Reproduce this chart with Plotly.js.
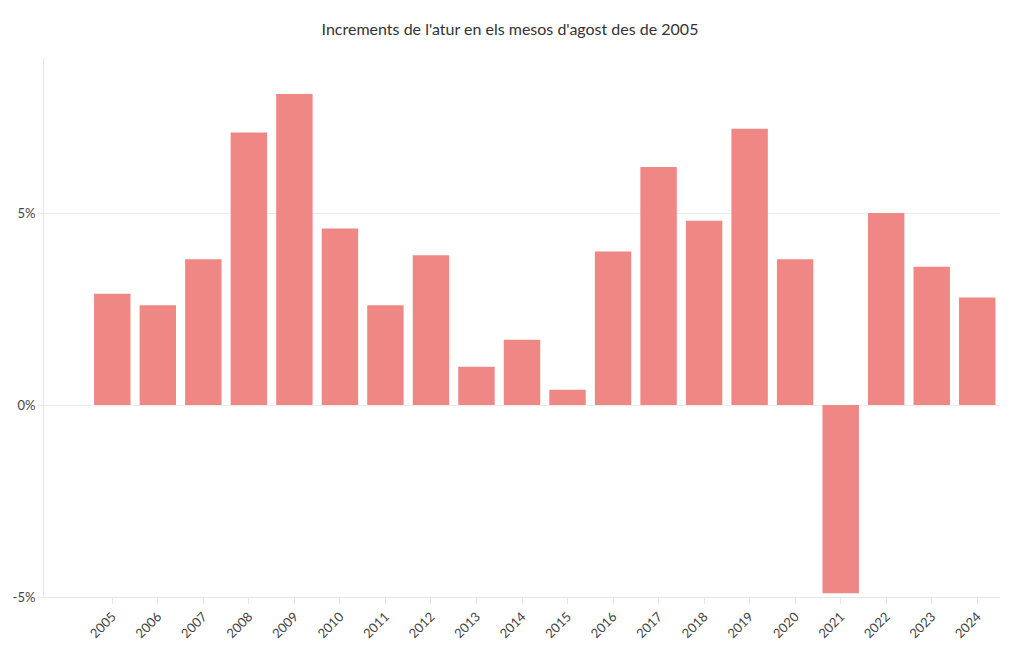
<!DOCTYPE html>
<html>
<head>
<meta charset="utf-8">
<script src="https://cdn.plot.ly/plotly-3.0.1.min.js"></script>
<style>html,body{margin:0;padding:0;background:#fff;}#chart{width:1020px;height:650px;}</style>
</head>
<body>
<div id="chart"></div>
<script>
const years = ["2005","2006","2007","2008","2009","2010","2011","2012","2013","2014","2015","2016","2017","2018","2019","2020","2021","2022","2023","2024"];
const increments = [2.9, 2.6, 3.8, 7.1, 8.1, 4.6, 2.6, 3.9, 1.0, 1.7, 0.4, 4.0, 6.2, 4.8, 7.2, 3.8, -4.9, 5.0, 3.6, 2.8];
const yTickVals = [-5, 0, 5];
const yTickText = ["-5%", "0%", "5%"];
const titleText = "Increments de l'atur en els mesos d'agost des de 2005";

const trace = {
  type: 'bar',
  x: years,
  y: increments,
  marker: {color: '#ef8784'},
  hoverinfo: 'x+y'
};

const layout = {
  width: 1020,
  height: 650,
  font: {family: 'Lato, "Noto Sans", sans-serif', size: 12, color: '#444'},
  title: {text: titleText, font: {size: 16, color: '#333'}, x: 0.5, xanchor: 'center', y: 0.955, yanchor: 'middle'},
  margin: {l: 44, r: 20, t: 58, b: 53},
  bargap: 0.2,
  plot_bgcolor: '#fff',
  paper_bgcolor: '#fff',
  showlegend: false,
  xaxis: {
    type: 'category',
    range: [-1.5, 19.5],
    tickangle: -45,
    ticks: 'outside',
    ticklen: 6,
    tickcolor: '#e6e6e6',
    showline: true,
    linecolor: '#e6e6e6',
    showgrid: false,
    zeroline: false,
    tickfont: {size: 13, color: '#444'}
  },
  yaxis: {
    range: [-5, 9.04],
    tickmode: 'array',
    tickvals: yTickVals,
    ticktext: yTickText,
    ticks: 'outside',
    ticklen: 5,
    tickcolor: '#e6e6e6',
    showline: true,
    linecolor: '#e6e6e6',
    gridcolor: '#ececec',
    zeroline: false,
    tickfont: {size: 13, color: '#444'}
  }
};

Plotly.newPlot('chart', [trace], layout, {displayModeBar: false, staticPlot: true});
</script>
</body>
</html>
